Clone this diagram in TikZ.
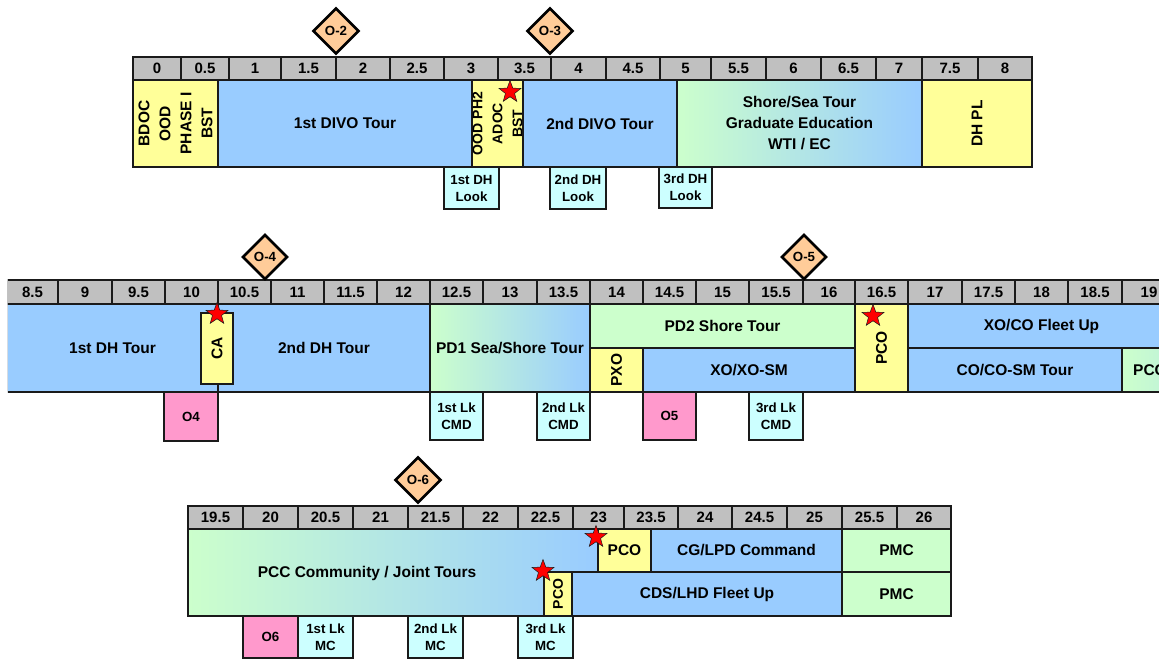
\documentclass[tikz,border=0pt]{standalone}
\usepackage{fontspec}
\setmainfont{Liberation Sans}
\usetikzlibrary{shapes.geometric}
\definecolor{hdr}{HTML}{C0C0C0}
\definecolor{blu}{HTML}{99CCFF}
\definecolor{yel}{HTML}{FFFF99}
\definecolor{grn}{HTML}{CCFFCC}
\definecolor{cyn}{HTML}{CCFFFF}
\definecolor{pnk}{HTML}{FF99CC}
\definecolor{org}{HTML}{FFCC99}
\definecolor{lin}{HTML}{1A1A1A}
\tikzset{
 base/.style={draw=lin, line width=1.6pt, inner sep=0pt, outer sep=0pt, align=center, font=\bfseries\fontsize{15.5}{21}\selectfont},
 bluebox/.style={base, fill=blu},
 yelbox/.style={base, fill=yel},
 grnbox/.style={base, fill=grn},
 smallfont/.style={font=\bfseries\fontsize{13.3}{17}\selectfont},
 cynbox/.style={base, fill=cyn, smallfont},
 pnkbox/.style={base, fill=pnk, smallfont},
 gradbox/.style={base, left color=grn, right color=blu},
 hcell/.style={base, fill=hdr, font=\bfseries\fontsize{15}{18}\selectfont},
 hframe/.style={draw=lin, line width=2.6pt},
 mstone/.style={diamond, draw=black, line width=2.6pt, fill=org, minimum width=46pt, minimum height=46pt, inner sep=0pt, font=\bfseries\fontsize{13.3}{15}\selectfont},
 flag/.style={star, star points=5, star point ratio=2.4, draw=lin, line width=0.5pt, fill=red, minimum size=23pt, inner sep=0pt},
 plaintext/.style={inner sep=0pt, font=\bfseries\fontsize{15.5}{21}\selectfont},
}
% box: name, style, x1, y1, x2, y2, text (pixel coordinates, y downward)
\newcommand\bx[7]{\node[#2, minimum width={(#5-#3)*1pt}, minimum height={(#6-#4)*1pt}] (#1) at ({(#3+#5)/2},{-(#4+#6)/2}) {#7};}
\newcommand\rbx[7]{\node[#2, rotate=90, minimum width={(#6-#4)*1pt}, minimum height={(#5-#3)*1pt}] (#1) at ({(#3+#5)/2},{-(#4+#6)/2}) {#7};}
\begin{document}
\begin{tikzpicture}[x=1pt,y=1pt]
\useasboundingbox (0,0) rectangle (1159,-660);
\clip (0,0) rectangle (1159,-660);
\fill[white] (0,0) rectangle (1159,-660);

% ---------------- Row 1 ----------------
\foreach \a/\b/\l [count=\i] in {133/181/0,181/229/0.5,229/281/1,281/336/1.5,336/390/2,390/444/2.5,444/498/3,498/551/3.5,551/606/4,606/660/4.5,660/711/5,711/766/5.5,766/821/6,821/876/6.5,876/922/7,922/978/7.5,978/1032/8}{
  \node[hcell, minimum width={(\b-\a)*1pt}, minimum height=23pt] (ha\i) at ({(\a+\b)/2},-68.5) {\l};
}
\draw[hframe] (ha1.north west) rectangle (ha17.south east);

\rbx{a1}{yelbox}{133}{80}{218}{167}{BDOC\\OOD\\PHASE I\\BST}
\bx{a2}{bluebox}{218}{80}{472}{167}{1st DIVO Tour}
\rbx{a3}{yelbox, font=\bfseries\fontsize{14}{20}\selectfont}{472}{80}{523}{167}{OOD PH2\\ADOC\\BST}
\bx{a4}{bluebox}{523}{80}{677}{167}{2nd DIVO Tour}
\bx{a5}{gradbox}{677}{80}{922}{167}{Shore/Sea Tour\\Graduate Education\\WTI / EC}
\rbx{a6}{yelbox}{922}{80}{1032}{167}{DH PL}
\bx{a7}{cynbox}{444}{167}{499}{209}{1st DH\\Look}
\bx{a8}{cynbox}{550}{167}{606}{209}{2nd DH\\Look}
\bx{a9}{cynbox}{659}{167}{712}{208}{3rd DH\\Look}
\node[flag] (s1) at (510,-92) {};
\node[mstone] (d2) at (336,-31) {O-2};
\node[mstone] (d3) at (550,-31) {O-3};

% ---------------- Row 2 ----------------
\begin{scope}
\clip (7.9,-225) rectangle (1159,-450);
\foreach \a/\b/\l [count=\i] in {7/58/8.5,58/112/9,112/165/9.5,165/218/10,218/271/10.5,271/324/11,324/377/11.5,377/430/12,430/483/12.5,483/537/13,537/590/13.5,590/643/14,643/696/14.5,696/749/15,749/803/15.5,803/855/16,855/908/16.5,908/962/17,962/1015/17.5,1015/1068/18,1068/1122/18.5,1122/1176/19}{
  \node[hcell, minimum width={(\b-\a)*1pt}, minimum height=24pt] (hb\i) at ({(\a+\b)/2},-292) {\l};
}
\draw[hframe] (hb1.north west) rectangle (hb22.south east);

\bx{b1}{bluebox}{7}{304}{218}{392}{1st DH Tour}
\bx{b2}{bluebox}{218}{304}{430}{392}{2nd DH Tour}
\rbx{b3}{yelbox}{201}{313}{233}{384}{CA}
\bx{b4}{gradbox}{430}{304}{590}{392}{PD1 Sea/Shore Tour}
\bx{b5}{grnbox}{590}{304}{855}{348}{PD2 Shore Tour}
\rbx{b6}{yelbox}{590}{348}{643}{392}{PXO}
\bx{b7}{bluebox}{643}{348}{855}{392}{XO/XO-SM}
\rbx{b8}{yelbox}{855}{304}{908}{392}{PCO}
\bx{b9}{bluebox}{908}{304}{1175}{348}{XO/CO Fleet Up}
\bx{b10}{bluebox}{908}{348}{1122}{392}{CO/CO-SM Tour}
\bx{b11}{gradbox}{1122}{348}{1330}{392}{}
\node[plaintext, anchor=west] (b11t) at (1133,-370) {PCC};
\bx{b12}{pnkbox}{164}{392}{218}{441}{O4}
\bx{b13}{cynbox}{430}{392}{483}{440}{1st Lk\\CMD}
\bx{b14}{cynbox}{537}{392}{590}{440}{2nd Lk\\CMD}
\bx{b15}{pnkbox}{643}{392}{696}{440}{O5}
\bx{b16}{cynbox}{749}{392}{803}{440}{3rd Lk\\CMD}
\node[flag] (s2) at (217,-314) {};
\node[flag] (s3) at (873,-316) {};
\node[mstone, minimum width=45pt, minimum height=45pt] (d4) at (265,-257) {O-4};
\node[mstone, minimum width=45pt, minimum height=45pt] (d5) at (804,-257) {O-5};
\end{scope}

% ---------------- Row 3 ----------------
\foreach \a/\b/\l [count=\i] in {188/243/19.5,243/298/20,298/353/20.5,353/408/21,408/463/21.5,463/518/22,518/573/22.5,573/624/23,624/678/23.5,678/732/24,732/787/24.5,787/842/25,842/897/25.5,897/951/26}{
  \node[hcell, minimum width={(\b-\a)*1pt}, minimum height=23pt] (hc\i) at ({(\a+\b)/2},-517.5) {\l};
}
\draw[hframe] (hc1.north west) rectangle (hc14.south east);

\bx{c1}{gradbox}{188}{529}{598}{616}{}
\node[plaintext] (c1t) at (367,-573) {PCC Community / Joint Tours};
\rbx{c2}{yelbox, font=\bfseries\fontsize{14}{17}\selectfont}{544}{572}{572}{616}{PCO}
\bx{c3}{yelbox}{598}{529}{651}{572}{PCO}
\bx{c4}{bluebox}{651}{529}{842}{572}{CG/LPD Command}
\bx{c5}{grnbox}{842}{529}{951}{572}{PMC}
\bx{c6}{bluebox}{572}{572}{842}{616}{CDS/LHD Fleet Up}
\bx{c7}{grnbox}{842}{572}{951}{616}{PMC}
\bx{c8}{pnkbox}{243}{616}{298}{658}{O6}
\bx{c9}{cynbox}{298}{616}{353}{658}{1st Lk\\MC}
\bx{c10}{cynbox}{408}{616}{463}{658}{2nd Lk\\MC}
\bx{c11}{cynbox}{518}{616}{573}{658}{3rd Lk\\MC}
\node[flag] (s4) at (543,-571) {};
\node[flag] (s5) at (596,-537) {};
\node[mstone] (d6) at (418,-480) {O-6};
\end{tikzpicture}
\end{document}
